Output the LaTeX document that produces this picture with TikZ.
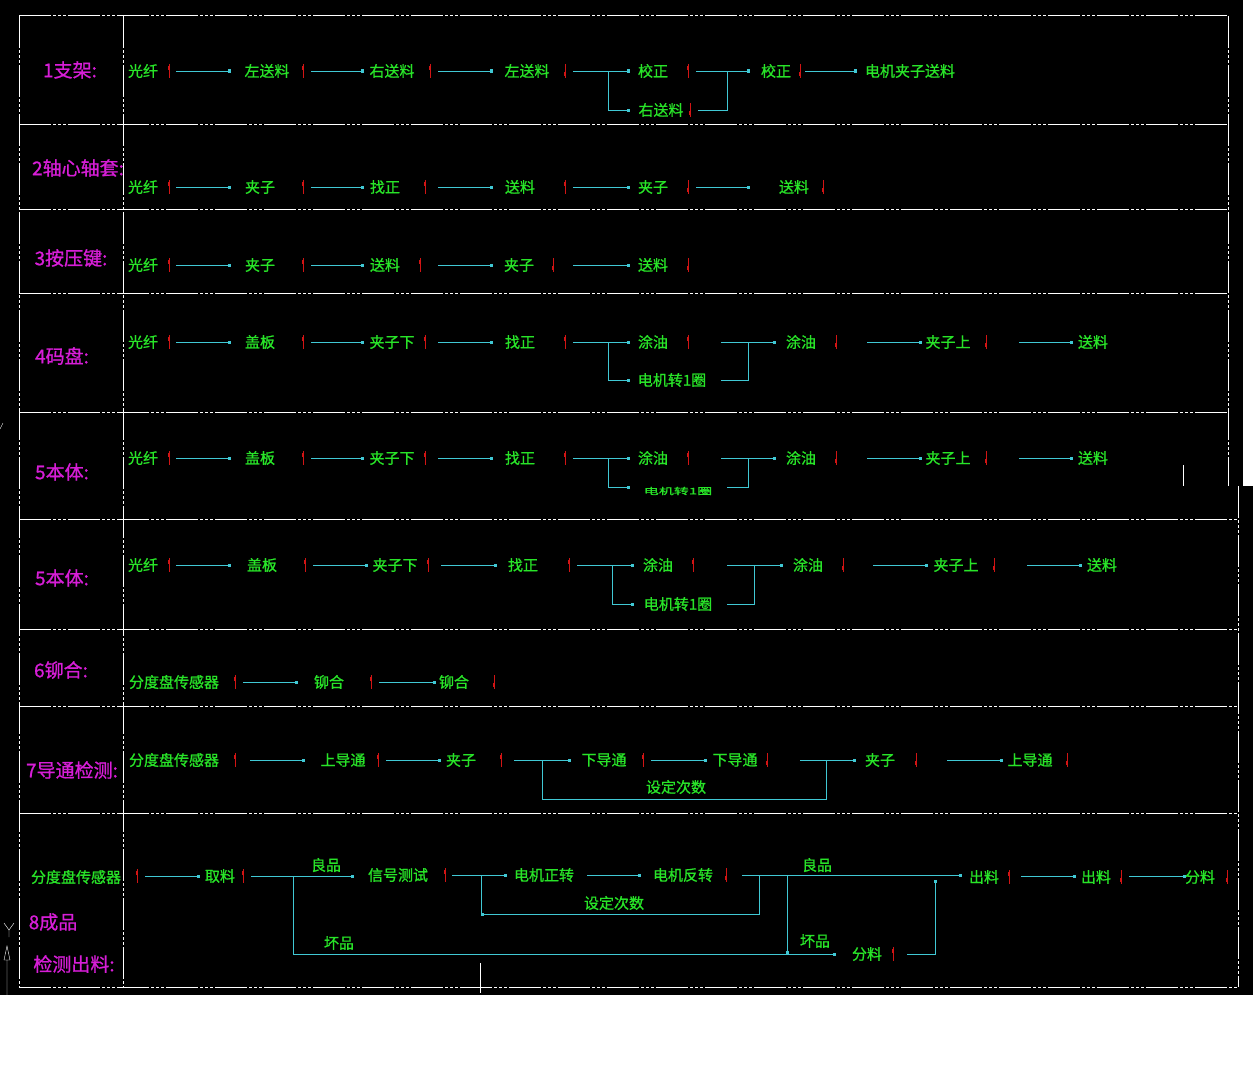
\documentclass[tikz,border=0pt]{standalone}
\usepackage{fontspec}
\setmainfont{Noto Sans CJK SC}
\newfontfamily\cadfont{Noto Sans CJK SC}[FakeBold=0.9]
\usepackage{tikz}
\usetikzlibrary{arrows.meta}
\definecolor{cadgreen}{RGB}{40,228,40}
\definecolor{cadmag}{RGB}{215,30,215}
\definecolor{cadcyan}{RGB}{64,200,212}
\definecolor{cadred}{RGB}{210,20,20}
\tikzstyle{steptxt} = [text=cadgreen, font=\cadfont\fontsize{15}{15}\selectfont, inner sep=0pt]
\tikzstyle{title} = [text=cadmag, font=\cadfont\fontsize{19}{19}\selectfont, inner sep=0pt]
\tikzstyle{flow} = [draw=cadcyan, line width=0.9pt, -{Square[length=3pt,width=3pt]}]
\tikzstyle{wire} = [draw=cadcyan, line width=0.9pt]
\tikzstyle{sensor} = [draw=cadred, line width=0.9pt]
\tikzstyle{frame} = [draw=white, line width=1pt, dash pattern=on 32pt off 2pt on 3pt off 2pt on 3pt off 2pt on 3pt off 2pt]
\newcommand{\flab}[4]{\node[steptxt] (#1) at (#2,#3) {#4};}
\newcommand{\mup}[2]{\draw[sensor] (#1,#2-7) -- (#1,#2+7); \fill[cadred] (#1-1.2,#2-5) rectangle (#1+1.2,#2-1);}
\newcommand{\mdn}[2]{\draw[sensor] (#1,#2-7) -- (#1,#2+7); \fill[cadred] (#1-1.2,#2+1) rectangle (#1+1.2,#2+5);}
\newcommand{\fseg}[4]{\coordinate (#1a) at (#2,#4); \coordinate (#1b) at (#3,#4); \draw[flow] (#1a) -- (#1b);}

\begin{document}
\begin{tikzpicture}[x=1pt,y=-1pt]
\useasboundingbox (0,0) rectangle (1258,1073);
% screen
\fill[white] (0,0) rectangle (1258,1073);
\fill[black] (0,0) rectangle (1243,486);
\fill[black] (0,486) rectangle (1253,995);

% table
\draw[frame] (19,16) -- (19,987);
\draw[frame] (123,16) -- (123,987);
\draw[frame] (1228,16) -- (1228,486);
\draw[frame] (1238,486) -- (1238,987);
\foreach \y in {16,124,209,293,412} \draw[frame] (19,\y) -- (1228,\y);
\foreach \y in {519,629,706,813,987} \draw[frame] (19,\y) -- (1238,\y);

% 1
\node[title] (t1) at (70,70) {1支架:};
\flab{a1}{143}{71}{光纤} \mup{169}{71} \fseg{s11}{176}{231}{71}
\flab{a2}{267}{71}{左送料} \mup{303}{71} \fseg{s12}{311}{364}{71}
\flab{a3}{392}{71}{右送料} \mup{430}{71} \fseg{s13}{438}{493}{71}
\flab{a4}{527}{71}{左送料} \mdn{565}{71} \fseg{s14}{573}{630}{71}
\coordinate (j11) at (608,71); \coordinate (j12) at (630,110);
\draw[flow] (j11) |- (j12);
\flab{a5}{653}{71}{校正} \mup{688}{71}
\flab{a6}{661}{110}{右送料} \mdn{690}{110}
\fseg{s15}{696}{750}{71}
\coordinate (j13) at (727,71); \coordinate (j14) at (698,110);
\draw[wire] (j14) -| (j13);
\flab{a7}{776}{71}{校正} \mdn{800}{71} \fseg{s16}{805}{857}{71}
\flab{a8}{910}{71}{电机夹子送料}

% 2
\node[title] (t2) at (78,168) {2轴心轴套:};
\flab{b1}{143}{187}{光纤} \mup{169}{187} \fseg{s21}{176}{231}{187}
\flab{b2}{260}{187}{夹子} \mup{303}{187} \fseg{s22}{311}{364}{187}
\flab{b3}{385}{187}{找正} \mup{425}{187} \fseg{s23}{438}{493}{187}
\flab{b4}{520}{187}{送料} \mup{565}{187} \fseg{s24}{573}{630}{187}
\flab{b5}{653}{187}{夹子} \mdn{688}{187} \fseg{s25}{696}{750}{187}
\flab{b6}{794}{187}{送料} \mdn{823}{187}

% 3
\node[title] (t3) at (71,258) {3按压键:};
\flab{c1}{143}{265}{光纤} \mup{169}{265} \fseg{s31}{176}{231}{265}
\flab{c2}{260}{265}{夹子} \mup{303}{265} \fseg{s32}{311}{364}{265}
\flab{c3}{385}{265}{送料} \mup{420}{265} \fseg{s33}{438}{493}{265}
\flab{c4}{519}{265}{夹子} \mdn{553}{265} \fseg{s34}{573}{630}{265}
\flab{c5}{653}{265}{送料} \mdn{688}{265}

% 4
\node[title] (t4) at (62,356) {4码盘:};
\flab{d1}{143}{342}{光纤} \mup{169}{342} \fseg{s41}{176}{231}{342}
\flab{d2}{260}{342}{盖板} \mup{303}{342} \fseg{s42}{311}{364}{342}
\flab{d3}{392}{342}{夹子下} \mup{425}{342} \fseg{s43}{438}{493}{342}
\flab{d4}{520}{342}{找正} \mup{565}{342} \fseg{s44}{573}{630}{342}
\coordinate (j41) at (608,342); \coordinate (j42) at (630,380);
\draw[flow] (j41) |- (j42);
\flab{d5}{653}{342}{涂油} \mup{688}{342}
\flab{d6}{672}{380}{电机转1圈}
\fseg{s45}{721}{776}{342}
\coordinate (j43) at (721,380); \coordinate (j44) at (748,342);
\draw[wire] (j43) -| (j44);
\flab{d7}{801}{342}{涂油} \mdn{836}{342} \fseg{s46}{867}{922}{342}
\flab{d8}{948}{342}{夹子上} \mdn{986}{342} \fseg{s47}{1019}{1073}{342}
\flab{d9}{1093}{342}{送料}

% 5
\node[title] (t5) at (62,472) {5本体:};
\flab{e1}{143}{458}{光纤} \mup{169}{458} \fseg{s51}{176}{231}{458}
\flab{e2}{260}{458}{盖板} \mup{303}{458} \fseg{s52}{311}{364}{458}
\flab{e3}{392}{458}{夹子下} \mup{425}{458} \fseg{s53}{438}{493}{458}
\flab{e4}{520}{458}{找正} \mup{565}{458} \fseg{s54}{573}{630}{458}
\coordinate (j51) at (608,458); \coordinate (j52) at (630,487);
\draw[flow] (j51) |- (j52);
\flab{e5}{653}{458}{涂油} \mup{688}{458}
\node[steptxt, yscale=0.6] (e6) at (678,491) {电机转1圈};
\fseg{s55}{721}{776}{458}
\coordinate (j53) at (727,487); \coordinate (j54) at (748,458);
\draw[wire] (j53) -| (j54);
\flab{e7}{801}{458}{涂油} \mdn{836}{458} \fseg{s56}{867}{922}{458}
\flab{e8}{948}{458}{夹子上} \mdn{986}{458} \fseg{s57}{1019}{1073}{458}
\flab{e9}{1093}{458}{送料}

% 5 again
\node[title] (t6) at (62,578) {5本体:};
\flab{f1}{143}{565}{光纤} \mup{169}{565} \fseg{s61}{176}{231}{565}
\flab{f2}{262}{565}{盖板} \mup{305}{565} \fseg{s62}{313}{368}{565}
\flab{f3}{395}{565}{夹子下} \mup{428}{565} \fseg{s63}{441}{497}{565}
\flab{f4}{523}{565}{找正} \mup{569}{565} \fseg{s64}{577}{634}{565}
\coordinate (j61) at (612,565); \coordinate (j62) at (634,604);
\draw[flow] (j61) |- (j62);
\flab{f5}{658}{565}{涂油} \mup{693}{565}
\flab{f6}{678}{604}{电机转1圈}
\fseg{s65}{727}{783}{565}
\coordinate (j63) at (727,604); \coordinate (j64) at (754,565);
\draw[wire] (j63) -| (j64);
\flab{f7}{808}{565}{涂油} \mdn{843}{565} \fseg{s66}{873}{928}{565}
\flab{f8}{956}{565}{夹子上} \mdn{994}{565} \fseg{s67}{1027}{1082}{565}
\flab{f9}{1102}{565}{送料}

% 6
\node[title] (t7) at (61,670) {6铆合:};
\flab{g1}{174}{682}{分度盘传感器} \mup{235}{682} \fseg{s71}{243}{298}{682}
\flab{g2}{329}{682}{铆合} \mup{371}{682} \fseg{s72}{379}{436}{682}
\flab{g3}{454}{682}{铆合} \mdn{494}{682}

% 7
\node[title] (t8) at (72,770) {7导通检测:};
\flab{h1}{174}{760}{分度盘传感器} \mup{235}{760} \fseg{s81}{250}{305}{760}
\flab{h2}{343}{760}{上导通} \mup{378}{760} \fseg{s82}{386}{441}{760}
\flab{h3}{461}{760}{夹子} \mup{501}{760} \fseg{s83}{514}{571}{760}
\flab{h4}{604}{760}{下导通} \mup{643}{760} \fseg{s84}{651}{707}{760}
\flab{h5}{735}{760}{下导通} \mdn{767}{760} \fseg{s85}{800}{856}{760}
\coordinate (j81) at (542,760); \coordinate (j82) at (826,760);
\draw[wire] (j81) -- ++(0,39) -| (j82);
\node[steptxt] (h8) at (676,787) {设定次数};
\flab{h6}{880}{760}{夹子} \mdn{916}{760} \fseg{s86}{947}{1003}{760}
\flab{h7}{1030}{760}{上导通} \mdn{1067}{760}

% 8
\node[title] (t9) at (53,922) {8成品};
\node[title] (t10) at (74,964) {检测出料:};
\flab{i0}{76}{877}{分度盘传感器} \mup{137}{876} \fseg{s91}{145}{200}{876}
\flab{i1}{220}{876}{取料} \mup{243}{876} \fseg{s92}{251}{354}{876}
\node[steptxt] (i2) at (326,865) {良品};
\coordinate (j91) at (293,876); \coordinate (j92) at (836,954);
\draw[flow] (j91) |- (j92);
\node[steptxt] (i3) at (339,943) {坏品};
\flab{i4}{398}{875}{信号测试} \mup{445}{875} \fseg{s93}{452}{507}{875}
\flab{i5}{544}{875}{电机正转} \fseg{s94}{587}{641}{875}
\flab{i6}{683}{875}{电机反转} \mdn{726}{875} \fseg{s95}{742}{962}{875}
\coordinate (j93) at (759,875); \coordinate (j94) at (481,914); \coordinate (j95) at (481,875);
\draw[flow] (j93) |- (j94);
\draw[wire] (j95) -- (j94);
\node[steptxt] (i7) at (614,903) {设定次数};
\node[steptxt] (i8) at (817,865) {良品};
\coordinate (j96) at (787,875); \coordinate (j97) at (787,954);
\draw[flow] (j96) -- (j97);
\node[steptxt] (i9) at (815,941) {坏品};
\flab{i10}{867}{954}{分料} \mup{893}{954}
\coordinate (j98) at (907,954); \coordinate (j99) at (935,880);
\draw[flow] (j98) -| (j99);
\flab{i11}{984}{877}{出料} \mup{1009}{877} \fseg{s96}{1021}{1076}{876}
\flab{i12}{1096}{877}{出料} \mdn{1121}{877} \fseg{s97}{1129}{1186}{876}
\flab{i13}{1200}{877}{分料} \mdn{1227}{877}

% screen marks
\draw[white] (0,429) -- (3,423);
\draw[white] (1183,465) -- (1183,486);
\draw[white] (4,923) -- (9,930) -- (14,923) (9,930) -- (9,937);
\draw[white] (4,960) -- (7,946) -- (10,960) -- cycle (7,960) -- (7,995);
\draw[white] (480,963) -- (480,993);
\end{tikzpicture}
\end{document}
